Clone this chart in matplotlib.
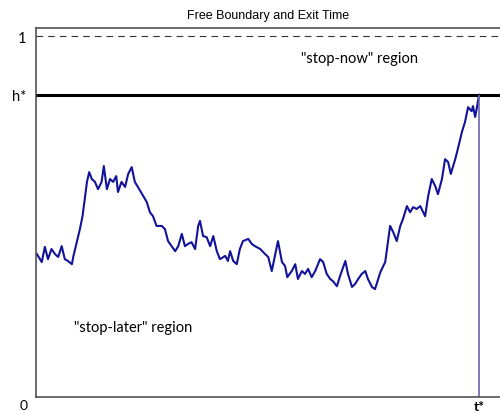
import matplotlib
matplotlib.use("Agg")
import matplotlib.pyplot as plt

# traced path: time in % of t*, level as fraction of the upper bound 1
t = [0.2, 1.3, 2.0, 2.7, 3.5, 4.3, 5.0, 5.8, 6.5, 7.2, 8.1, 8.4, 9.2, 9.9, 10.5,
     11.1, 11.5, 12.0, 12.6, 13.3, 14.0, 14.8, 15.3, 16.0, 16.7, 17.4, 18.1, 18.5,
     19.3, 20.1, 20.8, 21.6, 22.3, 23.0, 24.2, 25.0, 25.7, 26.4, 27.2, 28.4, 29.1,
     29.8, 30.6, 31.4, 32.1, 32.9, 33.6, 34.3, 35.1, 35.9, 36.6, 37.0, 37.7, 38.5,
     39.3, 40.0, 40.8, 41.5, 42.7, 43.3, 43.8, 44.5, 45.3, 46.0, 46.7, 47.9, 48.7,
     49.4, 50.6, 51.7, 52.4, 53.2, 53.9, 54.6, 55.5, 56.2, 56.7, 57.7, 58.5, 59.1,
     60.0, 60.7, 61.4, 62.2, 63.0, 64.1, 64.8, 65.6, 66.4, 67.0, 67.9, 68.6, 69.8,
     70.4, 71.3, 72.0, 72.7, 73.5, 74.3, 74.9, 75.8, 76.5, 77.2, 77.7, 78.8, 79.2,
     79.9, 80.6, 81.4, 82.2, 82.8, 83.7, 84.4, 85.1, 85.9, 86.7, 87.8, 88.5, 89.3,
     90.1, 90.7, 91.6, 92.3, 93.0, 93.6, 94.6, 95.3, 96.1, 96.8, 97.5, 98.3, 98.6,
     99.1, 99.5, 99.8, 100.0]
x = [0.396, 0.374, 0.416, 0.382, 0.410, 0.396, 0.388, 0.418, 0.382, 0.377, 0.368,
     0.388, 0.429, 0.465, 0.501, 0.557, 0.596, 0.623, 0.604, 0.596, 0.576, 0.596,
     0.640, 0.576, 0.604, 0.596, 0.612, 0.568, 0.596, 0.582, 0.618, 0.637, 0.596,
     0.582, 0.557, 0.540, 0.512, 0.501, 0.474, 0.474, 0.465, 0.432, 0.418, 0.404,
     0.418, 0.452, 0.418, 0.424, 0.429, 0.410, 0.474, 0.488, 0.446, 0.443, 0.418,
     0.446, 0.404, 0.382, 0.391, 0.377, 0.404, 0.377, 0.368, 0.410, 0.432, 0.438,
     0.424, 0.418, 0.410, 0.396, 0.388, 0.349, 0.391, 0.432, 0.374, 0.363, 0.332,
     0.349, 0.368, 0.327, 0.349, 0.341, 0.355, 0.332, 0.349, 0.382, 0.374, 0.341,
     0.327, 0.321, 0.307, 0.335, 0.377, 0.341, 0.305, 0.313, 0.327, 0.341, 0.349,
     0.327, 0.305, 0.299, 0.327, 0.346, 0.374, 0.410, 0.474, 0.457, 0.432, 0.474,
     0.493, 0.529, 0.512, 0.526, 0.521, 0.529, 0.501, 0.557, 0.604, 0.584, 0.562,
     0.604, 0.659, 0.651, 0.618, 0.659, 0.693, 0.734, 0.762, 0.803, 0.792, 0.806,
     0.776, 0.803, 0.825, 0.837]
h_star = 0.837
t_star = 100.0

fig = plt.figure(figsize=(5.0, 4.14), dpi=100)
ax = fig.add_axes([0.072, 0.0386, 0.928, 0.891])

ax.plot(t, x, color="#12129a", lw=1.5)
ax.axhline(h_star, color="black", lw=2.2)
ax.vlines(t_star, 0, h_star, color="#6a64b0", lw=1.2)
ax.axhline(1.0, color="#333333", lw=0.8, dashes=(6, 4.5))

ax.set_xlim(0, 104.7)
ax.set_ylim(0, 1.022)

for s in ["left", "bottom", "top"]:
    ax.spines[s].set_color("#444444")
    ax.spines[s].set_linewidth(1.1)
ax.spines["right"].set_visible(False)

ax.set_yticks([h_star, 1.0])
ax.set_yticklabels(["h*", "1"], fontsize=10.5, family="Lato")
ax.set_xticks([t_star])
ax.set_xticklabels(["t*"], fontsize=10, family="Lato", fontweight="bold")
ax.tick_params(length=0)
ax.tick_params(axis="y", pad=7)
ax.tick_params(axis="x", pad=2)
ax.annotate("0", xy=(0, 0), xytext=(-9, -6), textcoords="offset points",
            ha="center", va="center", fontsize=10, family="Lato",
            annotation_clip=False)

ax.set_title("Free Boundary and Exit Time", fontsize=9, family="Liberation Sans",
             pad=7)

ax.text(73, 0.94, '"stop-now" region', ha="center", va="center",
        fontsize=10.5, family="Lato")
ax.text(22, 0.195, '"stop-later" region', ha="center", va="center",
        fontsize=10.5, family="Lato")

fig.savefig("out.png", dpi=100)
